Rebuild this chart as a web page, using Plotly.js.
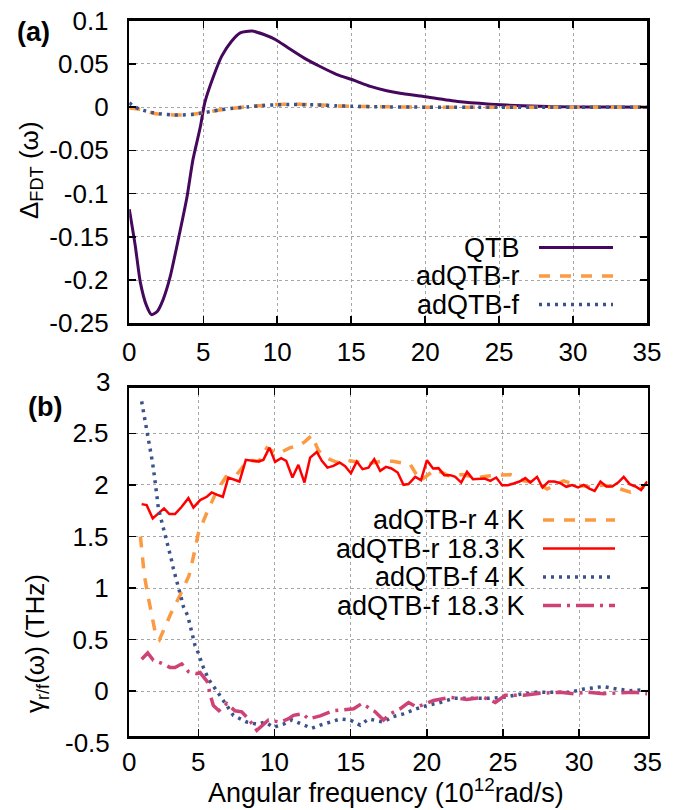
<!DOCTYPE html>
<html><head><meta charset="utf-8">
<script src="https://cdn.plot.ly/plotly-3.0.1.min.js"></script>
<style>html,body{margin:0;padding:0;background:#fff}#chart{width:683px;height:810px}</style>
</head><body><div id="chart"></div>
<script>
// ---------- Panel (a) data ----------
const qtbX = [0, 0.4, 0.75, 1.15, 1.5, 1.9, 2.3, 2.75, 3.3, 3.9, 4.3, 4.8, 5.1, 5.7, 6.25, 6.9, 7.5, 8.3, 9.1, 9.9, 10.7, 11.8, 12.9, 14.0, 15.2, 16.3, 17.4, 18.3, 19.9, 22.2, 24.4, 26.6, 28.9, 31, 33, 35];
const qtbY = [-0.118, -0.16, -0.203, -0.229, -0.240, -0.236, -0.222, -0.197, -0.154, -0.104, -0.061, -0.023, 0.005, 0.036, 0.059, 0.076, 0.086, 0.088, 0.084, 0.078, 0.069, 0.057, 0.047, 0.038, 0.031, 0.024, 0.019, 0.016, 0.0123, 0.0065, 0.0035, 0.0015, 0.0005, 0.0002, 0.0001, 0];

const rTopX = [0, 0.5, 1, 1.6, 2.2, 3, 3.6, 4.2, 4.8, 5.5, 6.2, 7, 8, 9, 10, 11, 12, 13, 14, 15, 17, 20, 25, 30, 35];
const rTopY = [-0.001, -0.002, -0.004, -0.007, -0.0085, -0.009, -0.009, -0.0085, -0.007, -0.005, -0.003, -0.0012, 0.0005, 0.002, 0.003, 0.0035, 0.003, 0.0025, 0.0015, 0.001, 0.0005, 0, 0, 0, 0];

const fTopX = [0, 0.3, 0.8, 1.5, 2.2, 3, 3.6, 4.2, 4.8, 5.5, 6.2, 7, 8, 9, 10, 11, 12, 13, 14, 15, 17, 20, 25, 30, 35];
const fTopY = [0.005, 0.001, -0.003, -0.006, -0.008, -0.009, -0.009, -0.0085, -0.007, -0.005, -0.003, -0.0012, 0.0002, 0.0018, 0.0028, 0.003, 0.0028, 0.0024, 0.0015, 0.001, 0.0004, 0, 0, 0, 0];

// ---------- Panel (b) data ----------
const r4X = [1.2, 1.45, 1.7, 1.96, 2.2, 2.45, 2.8, 3.19, 3.8, 4.39, 4.72, 5.0, 5.56, 6.21, 6.82, 7.52, 8.27, 9.0, 9.5, 10.2, 11.0, 11.6, 12.0, 12.45, 12.9, 13.44, 14.1, 14.75, 15.5, 16.3, 17.0, 17.77, 18.91, 19.57, 20.55, 21.43, 22.31, 23.3, 24.17, 25.48, 26.36, 27.2, 27.9, 28.98, 29.86, 30.74, 31.61, 32.49, 33.37, 34.24];
const r4Y = [1.50, 1.13, 0.92, 0.71, 0.55, 0.50, 0.62, 0.75, 0.93, 1.12, 1.33, 1.53, 1.73, 1.94, 2.08, 2.10, 2.24, 2.23, 2.36, 2.30, 2.36, 2.38, 2.42, 2.48, 2.33, 2.26, 2.22, 2.24, 2.22, 2.21, 2.23, 2.23, 2.20, 2.04, 2.15, 2.09, 2.10, 2.07, 2.09, 2.10, 2.04, 2.02, 1.96, 2.04, 2.00, 1.98, 2.00, 1.97, 1.93, 1.98];

const r18X = [1.28,1.61,2.01,2.38,2.75,3.10,3.47,3.91,4.35,4.68,5.12,5.56,5.88,6.25,6.61,6.97,7.30,7.70,8.12,8.51,8.95,9.27,9.67,10.04,10.44,10.77,11.18,11.57,11.97,12.34,12.78,13.11,13.48,13.87,14.27,14.64,15.02,15.41,15.78,16.17,16.55,16.94,17.32,17.68,18.09,18.47,18.80,19.24,19.62,20.01,20.41,20.77,21.15,21.54,21.87,22.26,22.64,23.03,23.40,23.80,24.17,24.56,24.94,25.33,25.70,26.09,26.47,26.80,27.24,27.60,28.00,28.37,28.77,29.16,29.54,29.93,30.30,30.67,31.02,31.40,31.79,32.17,32.56,32.93,33.32,33.70,34.07,34.47];
const r18Y = [1.814,1.804,1.675,1.723,1.772,1.717,1.717,1.788,1.872,1.781,1.853,1.885,1.927,1.904,1.885,2.072,2.056,2.033,2.243,2.233,2.227,2.243,2.362,2.224,2.259,2.233,2.072,2.195,2.023,2.265,2.320,2.233,2.168,2.185,2.217,2.182,2.114,2.227,2.153,2.168,2.250,2.137,2.175,2.160,2.120,2.001,2.008,2.078,2.046,2.240,2.159,2.163,2.095,2.095,2.078,2.023,2.127,2.056,2.056,2.062,2.040,2.072,1.998,1.998,2.014,2.033,2.066,2.023,2.078,1.975,2.033,2.033,2.017,1.982,1.998,1.975,2.001,1.965,1.943,2.033,1.985,1.985,2.023,2.078,2.008,1.985,1.950,2.033];

const f4X = [1.28,1.39,1.55,1.65,1.76,1.87,1.98,2.07,2.16,2.22,2.31,2.38,2.55,2.77,2.93,3.08,3.21,3.36,3.54,3.69,3.87,4.02,4.31,4.46,4.79,5.0,5.33,5.66,6.1,6.43,6.87,7.3,7.74,8.18,8.84,9.39,9.93,10.59,11.14,11.8,12.45,13.0,13.66,14.31,14.97,15.63,16.17,17.16,17.71,18.47,19.35,20.01,20.88,21.76,22.86,23.95,25.04,26.14,27.24,28.3,29.43,30.3,31.6,32.5,33.37,34.35];
const f4Y = [2.81,2.72,2.62,2.52,2.43,2.33,2.23,2.14,2.05,1.95,1.86,1.77,1.67,1.57,1.48,1.38,1.29,1.19,1.10,1.01,0.91,0.82,0.73,0.64,0.44,0.37,0.23,0.12,0.02,-0.04,-0.14,-0.235,-0.27,-0.30,-0.32,-0.30,-0.35,-0.32,-0.28,-0.32,-0.36,-0.33,-0.30,-0.27,-0.28,-0.33,-0.27,-0.30,-0.25,-0.22,-0.17,-0.14,-0.11,-0.07,-0.07,-0.07,-0.06,-0.03,-0.01,-0.01,-0.01,0.02,0.045,0.02,0.005,0.015];

const f18X = [1.28,1.68,2.05,2.6,3.14,3.47,3.91,4.35,4.9,5.12,5.6,5.77,5.99,6.35,6.87,7.41,7.85,8.3,8.84,9.27,9.6,10.37,10.9,11.25,11.86,12.23,13.0,13.87,14.75,15.2,15.74,16.2,16.61,17.16,17.6,18.26,18.8,19.35,20.44,21.54,22.6,23.73,24.5,25.15,26.36,27.45,28.77,29.64,30.6,31.6,32.7,33.6,34.47];
const f18Y = [0.31,0.37,0.30,0.27,0.23,0.23,0.265,0.19,0.17,0.18,0.09,-0.03,-0.14,-0.19,-0.12,-0.19,-0.20,-0.27,-0.38,-0.32,-0.28,-0.30,-0.27,-0.235,-0.22,-0.27,-0.24,-0.19,-0.18,-0.17,-0.12,-0.16,-0.20,-0.28,-0.22,-0.17,-0.11,-0.155,-0.09,-0.06,-0.08,-0.06,-0.11,-0.04,-0.04,-0.02,-0.01,-0.025,-0.01,-0.025,-0.02,-0.01,-0.025];

// ---------- ticks and labels ----------
const topXTickVals = [0, 5, 10, 15, 20, 25, 30, 35];
const topXTickText = ['0', '5', '10', '15', '20', '25', '30', '35'];
const topYTickVals = [-0.25, -0.2, -0.15, -0.1, -0.05, 0, 0.05, 0.1];
const topYTickText = ['-0.25', '-0.2', '-0.15', '-0.1', '-0.05', '0', '0.05', '0.1'];
const botXTickVals = [0.47, 5, 10, 15, 20, 25, 30, 34.49];
const botXTickText = ['0', '5', '10', '15', '20', '25', '30', '35'];
const botYTickVals = [0, 0.5, 1, 1.5, 2, 2.5];
const botYTickText = ['0', '0.5', '1', '1.5', '2', '2.5'];
const botYEndVals = [3, -0.5];
const botYEndText = ['3', '-0.5'];

const topNames = ['QTB', 'adQTB-r', 'adQTB-f'];
const botNames = ['adQTB-r 4 K', 'adQTB-r 18.3 K', 'adQTB-f 4 K', 'adQTB-f 18.3 K'];

// ---------- styles ----------
const FONT = 'Liberation Sans, Arial, Helvetica, sans-serif';
const C_QTB = '#46085c', C_OR = '#fb9a40', C_BL = '#3b528b', C_RED = '#ff0000', C_MAG = '#cf4276';
const topStyles = [
  {color: C_QTB, width: 3, dash: 'solid'},
  {color: C_OR, width: 3.5, dash: '11px,10px'},
  {color: C_BL, width: 3.5, dash: '3px,5px'}
];
const botStyles = [
  {color: C_OR, width: 3.5, dash: '11px,10px'},
  {color: C_RED, width: 2.5, dash: 'solid'},
  {color: C_BL, width: 3.5, dash: '3px,5px'},
  {color: C_MAG, width: 3.5, dash: '18px,6px,3px,6px'}
];

const W = 683, H = 810;
const fx = p => p / W;
const fy = p => 1 - p / H;

// panel (b) y axis geometry (pixels) used to place end tick labels that fall outside the drawn range
const B_TOP = 387.5, B_BOT = 736, B_YMIN = -0.435, B_YMAX = 2.945;
const yToPx = v => B_BOT - (v - B_YMIN) / (B_YMAX - B_YMIN) * (B_BOT - B_TOP);

const traces = [
  {x: qtbX, y: qtbY, xaxis: 'x', yaxis: 'y', mode: 'lines', line: Object.assign({shape: 'spline', smoothing: 0.6}, topStyles[0]), name: topNames[0]},
  {x: rTopX, y: rTopY, xaxis: 'x', yaxis: 'y', mode: 'lines', line: Object.assign({shape: 'spline', smoothing: 0.6}, topStyles[1]), name: topNames[1]},
  {x: fTopX, y: fTopY, xaxis: 'x', yaxis: 'y', mode: 'lines', line: Object.assign({shape: 'spline', smoothing: 0.6}, topStyles[2]), name: topNames[2]},
  {x: r4X, y: r4Y, xaxis: 'x2', yaxis: 'y2', mode: 'lines', line: botStyles[0], name: botNames[0]},
  {x: r18X, y: r18Y, xaxis: 'x2', yaxis: 'y2', mode: 'lines', line: botStyles[1], name: botNames[1]},
  {x: f4X, y: f4Y, xaxis: 'x2', yaxis: 'y2', mode: 'lines', line: botStyles[2], name: botNames[2]},
  {x: f18X, y: f18Y, xaxis: 'x2', yaxis: 'y2', mode: 'lines', line: botStyles[3], name: botNames[3]}
];

const TICKSIZE = 26;
const axisBase = {
  showline: true, linecolor: '#000', linewidth: 2.5, mirror: 'ticks',
  ticks: 'inside', ticklen: 7, tickwidth: 1.5, tickcolor: '#000',
  showgrid: true, gridcolor: '#a6a6a6', griddash: 'dot', gridwidth: 1,
  zeroline: false, tickmode: 'array', fixedrange: true,
  tickfont: {family: FONT, size: TICKSIZE, color: '#000'}
};

const annotations = [];
const shapes = [];
// panel labels
annotations.push({xref: 'paper', yref: 'paper', x: fx(33), y: fy(32), text: '<b>(a)</b>', showarrow: false, xanchor: 'center', yanchor: 'middle', font: {family: FONT, size: 27, color: '#000'}});
annotations.push({xref: 'paper', yref: 'paper', x: fx(45), y: fy(407), text: '<b>(b)</b>', showarrow: false, xanchor: 'center', yanchor: 'middle', font: {family: FONT, size: 27, color: '#000'}});
// axis titles
annotations.push({xref: 'paper', yref: 'paper', x: fx(30), y: fy(170), text: 'Δ<sub>FDT</sub> (ω)', textangle: -90, showarrow: false, xanchor: 'center', yanchor: 'middle', font: {family: FONT, size: 26, color: '#000'}});
annotations.push({xref: 'paper', yref: 'paper', x: fx(36), y: fy(644), text: 'γ<sub>r/f</sub>(ω) (THz)', textangle: -90, showarrow: false, xanchor: 'center', yanchor: 'middle', font: {family: FONT, size: 26, color: '#000'}});
annotations.push({xref: 'paper', yref: 'paper', x: fx(386), y: fy(791), text: 'Angular frequency (10<sup>12</sup>rad/s)', showarrow: false, xanchor: 'center', yanchor: 'middle', font: {family: FONT, size: 27, color: '#000'}});
// end tick labels of panel (b) y axis (3 and -0.5 lie just outside the drawn frame)
botYEndVals.forEach((v, i) => annotations.push({xref: 'paper', yref: 'paper', x: fx(112), y: fy(yToPx(v)), text: botYEndText[i], showarrow: false, xanchor: 'right', yanchor: 'middle', font: {family: FONT, size: TICKSIZE, color: '#000'}}));

// legend (a)
shapes.push({type: 'rect', xref: 'paper', yref: 'paper', x0: fx(405), x1: fx(631), y0: fy(322), y1: fy(233), fillcolor: '#fff', line: {width: 0}, layer: 'between'});
const topRows = [247.5, 276, 304.5];
topNames.forEach((n, i) => {
  annotations.push({xref: 'paper', yref: 'paper', x: fx(522), y: fy(topRows[i]), text: n, showarrow: false, xanchor: 'right', yanchor: 'middle', font: {family: FONT, size: 27, color: '#000'}});
  shapes.push({type: 'line', xref: 'paper', yref: 'paper', x0: fx(539), x1: fx(613), y0: fy(topRows[i]), y1: fy(topRows[i]), line: topStyles[i], layer: 'above'});
});
// legend (b)
shapes.push({type: 'rect', xref: 'paper', yref: 'paper', x0: fx(297), x1: fx(631), y0: fy(650), y1: fy(507), fillcolor: '#fff', line: {width: 0}, layer: 'between'});
const botRows = [520, 548.5, 577, 605.5];
botNames.forEach((n, i) => {
  annotations.push({xref: 'paper', yref: 'paper', x: fx(527), y: fy(botRows[i]), text: n, showarrow: false, xanchor: 'right', yanchor: 'middle', font: {family: FONT, size: 27, color: '#000'}});
  shapes.push({type: 'line', xref: 'paper', yref: 'paper', x0: fx(543), x1: fx(615), y0: fy(botRows[i]), y1: fy(botRows[i]), line: botStyles[i], layer: 'above'});
});

const layout = {
  width: W, height: H,
  margin: {l: 0, r: 0, t: 0, b: 0, pad: 0},
  paper_bgcolor: '#fff', plot_bgcolor: '#fff',
  showlegend: false,
  font: {family: FONT, color: '#000'},
  xaxis: Object.assign({}, axisBase, {domain: [fx(129.3), fx(647)], range: [0, 35], anchor: 'y', tickvals: topXTickVals, ticktext: topXTickText, ticklabelstandoff: 4}),
  yaxis: Object.assign({}, axisBase, {domain: [fy(323.3), fy(20.7)], range: [-0.25, 0.1], anchor: 'x', tickvals: topYTickVals, ticktext: topYTickText, ticklabelstandoff: 13}),
  xaxis2: Object.assign({}, axisBase, {domain: [fx(129.3), fx(647.5)], range: [0.47, 34.49], anchor: 'y2', tickvals: botXTickVals, ticktext: botXTickText, ticklabelstandoff: 1}),
  yaxis2: Object.assign({}, axisBase, {domain: [fy(B_BOT), fy(B_TOP)], range: [B_YMIN, B_YMAX], anchor: 'x2', tickvals: botYTickVals, ticktext: botYTickText, ticklabelstandoff: 13}),
  annotations: annotations,
  shapes: shapes
};

Plotly.newPlot('chart', traces, layout, {displayModeBar: false, staticPlot: true});
</script></body></html>
